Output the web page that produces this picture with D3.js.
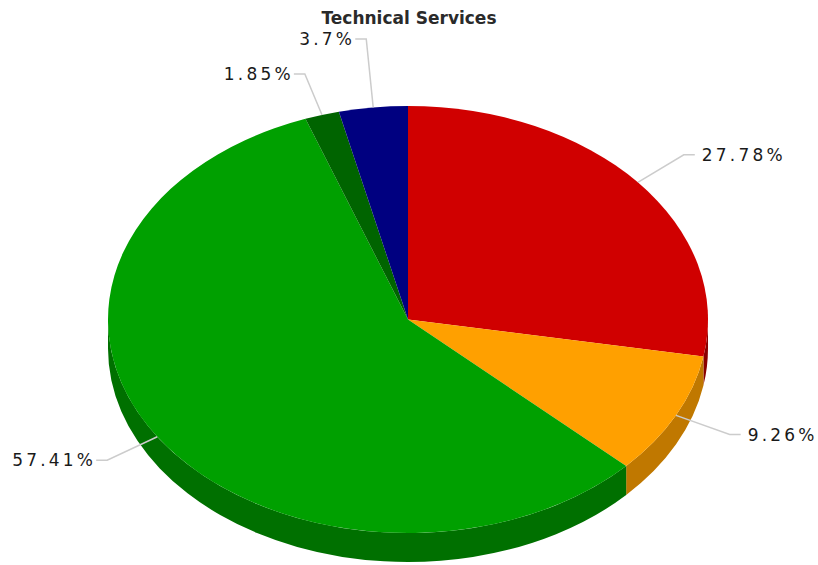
<!DOCTYPE html>
<html>
<head>
<meta charset="utf-8">
<script src="https://cdn.jsdelivr.net/npm/d3@7"></script>
<style>
  html, body { margin: 0; padding: 0; background: #fff; }
  svg { display: block; }
</style>
</head>
<body>
<svg id="chart" width="818" height="565"></svg>
<script>
// Slice data, in drawing order (clockwise from 12 o'clock)
const categories = ["A", "B", "C", "D", "E"];
const values = [27.78, 9.26, 57.41, 1.85, 3.7];
const labels = ["27.78%", "9.26%", "57.41%", "1.85%", "3.7%"];
const topColors = ["#d00000", "#ffa000", "#00a000", "#006400", "#000080"];
const sideColors = ["#8a0000", "#c07800", "#007000", "#004800", "#000050"];
const title = "Technical Services";

const W = 818, H = 565;
const cx = 408, cy = 319.5, rx = 300, ry = 213.5, depth = 29;

const svg = d3.select("#chart");

const pie = d3.pie().sort(null).value(d => d)(values);

const pt = (a, k = 1, dy = 0) => [cx + k * rx * Math.sin(a), cy - k * ry * Math.cos(a) + dy];

// Outer wall of the visible (front) half for each slice
function sidePath(a0, a1) {
  const p = d3.path();
  const [x0, y0] = pt(a0), [x1, y1] = pt(a1);
  p.moveTo(x0, y0);
  const large = (a1 - a0) > Math.PI ? 1 : 0;
  p._ += `A${rx},${ry},0,${large},1,${x1},${y1}`;
  p.lineTo(x1, y1 + depth);
  p._ += `A${rx},${ry},0,${large},0,${x0},${y0 + depth}`;
  p.closePath();
  return p.toString();
}

const sides = svg.append("g");
pie.forEach((s, i) => {
  const a0 = Math.max(s.startAngle, Math.PI / 2);
  const a1 = Math.min(s.endAngle, 3 * Math.PI / 2);
  if (a1 > a0) {
    sides.append("path").attr("d", sidePath(a0, a1)).attr("fill", sideColors[i]);
  }
});

// Top face: circular arcs squashed into an ellipse
const arc = d3.arc().innerRadius(0).outerRadius(rx);
svg.append("g")
  .attr("transform", `translate(${cx},${cy}) scale(1,${ry / rx})`)
  .selectAll("path")
  .data(pie)
  .join("path")
  .attr("d", arc)
  .attr("fill", (d, i) => topColors[i]);

// Labels with leader lines; keep labels on each side apart vertically
const lab = pie.map((s, i) => {
  const mid = (s.startAngle + s.endAngle) / 2;
  const [ex, ey] = pt(mid, 1.2);
  return { i, mid, anchor: pt(mid), ex, ey, right: Math.sin(mid) >= 0 };
});
const minGap = 35;
[true, false].forEach(side => {
  const g = lab.filter(l => l.right === side).sort((a, b) => b.ey - a.ey);
  for (let k = 1; k < g.length; k++) {
    if (g[k - 1].ey - g[k].ey < minGap) g[k].ey = g[k - 1].ey - minGap;
  }
});

const lg = svg.append("g");
lab.forEach(l => {
  const dir = l.right ? 1 : -1;
  const hx = l.ex + dir * 11;
  lg.append("polyline")
    .attr("points", [l.anchor, [l.ex, l.ey], [hx, l.ey]].map(p => p.join(",")).join(" "))
    .attr("fill", "none")
    .attr("stroke", "#cccccc")
    .attr("stroke-width", 1.5);
  // trailing letter-spacing already leaves a gap on end-anchored labels
  lg.append("text")
    .attr("x", hx + (l.right ? 7 : 0))
    .attr("y", l.ey)
    .attr("dy", "0.36em")
    .attr("text-anchor", l.right ? "start" : "end")
    .attr("font-family", "DejaVu Sans, Verdana, sans-serif")
    .attr("font-size", 17)
    .attr("letter-spacing", 3.2)
    .attr("fill", "#1a1a1a")
    .text(labels[l.i]);
});

svg.append("text")
  .attr("x", 409)
  .attr("y", 24)
  .attr("text-anchor", "middle")
  .attr("font-family", "DejaVu Sans, Verdana, sans-serif")
  .attr("font-weight", "bold")
  .attr("font-size", 17)
  .attr("fill", "#2a2a2a")
  .text(title);
</script>
</body>
</html>
